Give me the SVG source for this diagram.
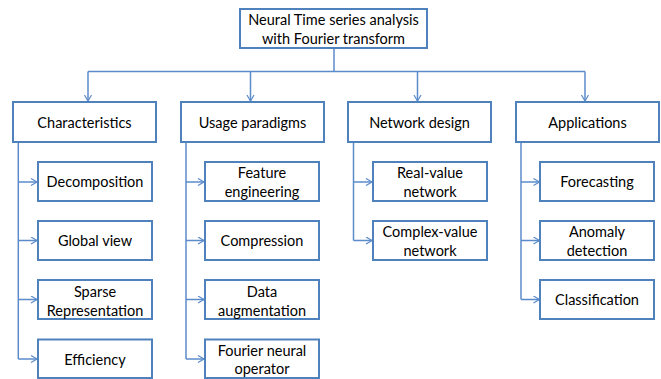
<svg xmlns="http://www.w3.org/2000/svg" width="661" height="379" viewBox="0 0 661 379">
<style>
.box{fill:#fff;stroke:#4F81BD;stroke-width:2}
.t{font-family:Lato,"Liberation Sans",sans-serif;font-size:14.5px;fill:#000;text-anchor:middle}
.c{fill:none;stroke:#5B8BCB;stroke-width:1.5}
</style>
<defs>
<marker id="a" markerUnits="userSpaceOnUse" markerWidth="10" markerHeight="10" refX="7" refY="4" orient="auto">
<path d="M1,0.5 L7,4 L1,7.5" fill="none" stroke="#5B8BCB" stroke-width="1.2"/>
</marker>
</defs>
<g id="connectors">
<path class="c" d="M334,48 V71.5"/>
<path class="c" d="M88,71.5 H585"/>
<path class="c" d="M88,71.5 V101" marker-end="url(#a)"/>
<path class="c" d="M250.5,71.5 V101" marker-end="url(#a)"/>
<path class="c" d="M417.5,71.5 V101" marker-end="url(#a)"/>
<path class="c" d="M585,71.5 V101" marker-end="url(#a)"/>
<path class="c" d="M18.3,142 V359"/>
<path class="c" d="M18.3,182 H37" marker-end="url(#a)"/>
<path class="c" d="M18.3,240.5 H37" marker-end="url(#a)"/>
<path class="c" d="M18.3,299.5 H37" marker-end="url(#a)"/>
<path class="c" d="M18.3,359 H37" marker-end="url(#a)"/>
<path class="c" d="M186,142 V359"/>
<path class="c" d="M186,182 H204" marker-end="url(#a)"/>
<path class="c" d="M186,240.5 H204" marker-end="url(#a)"/>
<path class="c" d="M186,299.5 H204" marker-end="url(#a)"/>
<path class="c" d="M186,359 H204" marker-end="url(#a)"/>
<path class="c" d="M353.5,142 V240.5"/>
<path class="c" d="M353.5,182 H372" marker-end="url(#a)"/>
<path class="c" d="M353.5,240.5 H372" marker-end="url(#a)"/>
<path class="c" d="M521,142 V299.5"/>
<path class="c" d="M521,182 H539.5" marker-end="url(#a)"/>
<path class="c" d="M521,240.5 H539.5" marker-end="url(#a)"/>
<path class="c" d="M521,299.5 H539.5" marker-end="url(#a)"/>
</g>
<g id="root"><rect class="box" x="240" y="9" width="187" height="39"/>
<text class="t" x="333.5" y="25">Neural Time series analysis</text>
<text class="t" x="333.5" y="44">with Fourier transform</text></g>
<g id="characteristics"><rect class="box" x="13" y="102" width="143" height="40"/><text class="t" x="84.5" y="127.5">Characteristics</text></g>
<g id="usage"><rect class="box" x="181" y="102" width="143" height="40"/><text class="t" x="252.5" y="127.5">Usage paradigms</text></g>
<g id="network"><rect class="box" x="348" y="102" width="143" height="40"/><text class="t" x="419.5" y="127.5">Network design</text></g>
<g id="applications"><rect class="box" x="516" y="102" width="143" height="40"/><text class="t" x="587.5" y="127.5">Applications</text></g>
<g id="decomposition"><rect class="box" x="38" y="162" width="114" height="39"/><text class="t" x="95" y="187">Decomposition</text></g>
<g id="globalview"><rect class="box" x="38" y="221" width="114" height="39"/><text class="t" x="95" y="246">Global view</text></g>
<g id="sparse"><rect class="box" x="38" y="280" width="114" height="39"/><text class="t" x="95" y="297">Sparse</text><text class="t" x="95" y="316">Representation</text></g>
<g id="efficiency"><rect class="box" x="38" y="339.5" width="114" height="38.5"/><text class="t" x="95" y="364.5">Efficiency</text></g>
<g id="feature"><rect class="box" x="205" y="162" width="114" height="39"/><text class="t" x="262" y="177.5">Feature</text><text class="t" x="262" y="196.5">engineering</text></g>
<g id="compression"><rect class="box" x="205" y="221" width="114" height="39"/><text class="t" x="262" y="246">Compression</text></g>
<g id="augmentation"><rect class="box" x="205" y="280" width="114" height="39"/><text class="t" x="262" y="297">Data</text><text class="t" x="262" y="316">augmentation</text></g>
<g id="fno"><rect class="box" x="205" y="339.5" width="114" height="38.5"/><text class="t" x="262" y="355.5">Fourier neural</text><text class="t" x="262" y="374">operator</text></g>
<g id="realvalue"><rect class="box" x="373" y="162" width="114" height="39"/><text class="t" x="430" y="177.5">Real-value</text><text class="t" x="430" y="196.5">network</text></g>
<g id="complexvalue"><rect class="box" x="373" y="221" width="114" height="39"/><text class="t" x="430" y="236.5">Complex-value</text><text class="t" x="430" y="255.5">network</text></g>
<g id="forecasting"><rect class="box" x="540" y="162" width="114" height="39"/><text class="t" x="597" y="187">Forecasting</text></g>
<g id="anomaly"><rect class="box" x="540" y="221" width="114" height="39"/><text class="t" x="597" y="236.5">Anomaly</text><text class="t" x="597" y="255.5">detection</text></g>
<g id="classification"><rect class="box" x="540" y="280" width="114" height="39"/><text class="t" x="597" y="305">Classification</text></g>
</svg>
